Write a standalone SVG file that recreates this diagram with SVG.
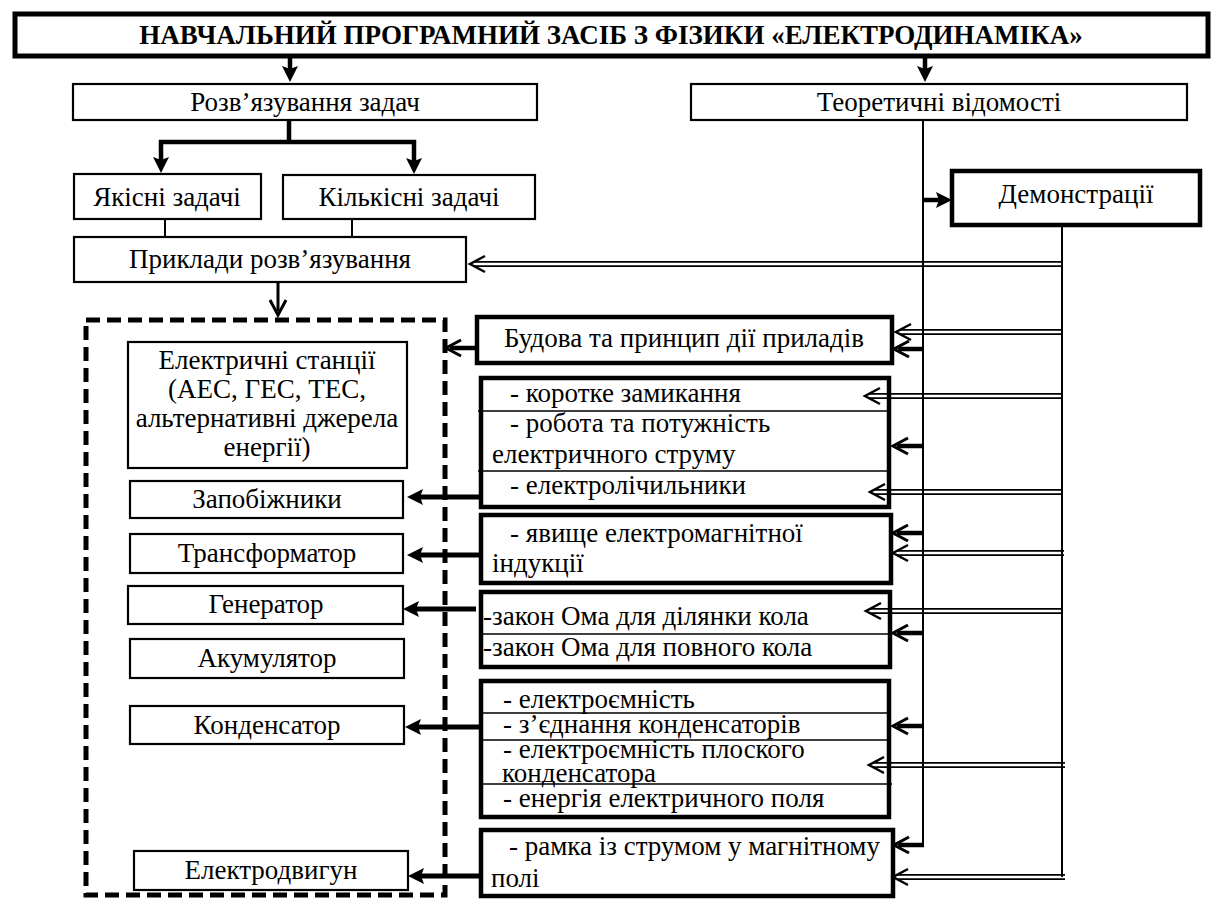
<svg xmlns="http://www.w3.org/2000/svg" width="1218" height="899" viewBox="0 0 1218 899">
<style>
.t{font-family:'Liberation Serif','Times New Roman',serif;font-size:27px;fill:#000}
.c{text-anchor:middle}
.b{font-weight:bold}
.box{fill:#fff;stroke:#000;stroke-width:2.2}
.bx{fill:#fff;stroke:#000;stroke-width:4.5}
.tb{fill:#fff;stroke:#000;stroke-width:5}
.dash{fill:none;stroke:#000;stroke-width:5;stroke-dasharray:14 7}
.div{stroke:#000;stroke-width:1.6;fill:none}
.thin{stroke:#000;stroke-width:2;fill:none}
.thk{stroke:#000;stroke-width:4.5;fill:none}
.thk5{stroke:#000;stroke-width:5;fill:none}
.med{stroke:#000;stroke-width:3;fill:none}
.dbl{stroke:#000;stroke-width:1.8;fill:none}
.dc{stroke:none;fill:none}
</style>
<defs>
<marker id="tri" markerUnits="userSpaceOnUse" orient="auto" overflow="visible" markerWidth="1" markerHeight="1" refX="0" refY="0"><path d="M-8,-8 L8,0 L-8,8 L-5,0 Z" fill="#000"/></marker>
<marker id="vee" markerUnits="userSpaceOnUse" orient="auto" overflow="visible" markerWidth="1" markerHeight="1" refX="0" refY="0"><path d="M-11,-8 L4,0 L-11,8" fill="none" stroke="#000" stroke-width="3"/></marker>
<marker id="dv" markerUnits="userSpaceOnUse" orient="auto" overflow="visible" markerWidth="1" markerHeight="1" refX="0" refY="0"><path d="M-15,-8 L0,0 L-15,8" fill="none" stroke="#000" stroke-width="2.5"/></marker>
</defs>

<g id="title">
<rect class="tb" x="15" y="14" width="1193" height="42"/>
<text class="t c b" x="611" y="44">НАВЧАЛЬНИЙ ПРОГРАМНИЙ ЗАСІБ З ФІЗИКИ «ЕЛЕКТРОДИНАМІКА»</text>
</g>
<g id="n-solve">
<rect class="box" x="73" y="84" width="464" height="36"/>
<text class="t c" x="305" y="111">Розв’язування задач</text>
</g>
<g id="n-theory">
<rect class="box" x="691" y="84" width="496" height="36"/>
<text class="t c" x="939" y="111">Теоретичні відомості</text>
</g>
<g id="n-qual">
<rect class="box" x="74" y="174" width="187" height="45"/>
<text class="t c" x="167" y="206">Якісні задачі</text>
</g>
<g id="n-quant">
<rect class="box" x="283" y="175" width="252" height="44"/>
<text class="t c" x="409" y="206">Кількісні задачі</text>
</g>
<g id="n-examples">
<rect class="box" x="74" y="237" width="392" height="45"/>
<text class="t c" x="270" y="268">Приклади розв’язування</text>
</g>
<g id="n-demo">
<rect class="bx" x="952" y="171" width="248" height="54"/>
<text class="t c" x="1076" y="203">Демонстрації</text>
</g>

<g id="n-group">
<rect class="dash" x="86" y="320" width="359" height="575"/>
</g>
<g id="n-stations">
<rect class="box" x="128" y="342" width="279" height="126"/>
<text class="t c" x="267" y="369">Електричні станції</text>
<text class="t c" x="267" y="398">(АЕС, ГЕС, ТЕС,</text>
<text class="t c" x="267" y="427">альтернативні джерела</text>
<text class="t c" x="267" y="456">енергії)</text>
</g>
<g id="n-fuses">
<rect class="box" x="130" y="481" width="273" height="37"/>
<text class="t c" x="267" y="508">Запобіжники</text>
</g>
<g id="n-transformer">
<rect class="box" x="130" y="534" width="273" height="39"/>
<text class="t c" x="267" y="562">Трансформатор</text>
</g>
<g id="n-generator">
<rect class="box" x="128" y="586" width="275" height="38"/>
<text class="t c" x="266" y="613">Генератор</text>
</g>
<g id="n-accumulator">
<rect class="box" x="130" y="639" width="274" height="39"/>
<text class="t c" x="267" y="667">Акумулятор</text>
</g>
<g id="n-capacitor">
<rect class="box" x="130" y="706" width="274" height="38"/>
<text class="t c" x="267" y="734">Конденсатор</text>
</g>
<g id="n-motor">
<rect class="box" x="134" y="851" width="274" height="39"/>
<text class="t c" x="271" y="879">Електродвигун</text>
</g>

<g id="n-devices">
<rect class="bx" x="477" y="317" width="415" height="46"/>
<text class="t c" x="684" y="347">Будова та принцип дії приладів</text>
</g>
<g id="n-g2">
<rect class="bx" x="481" y="378" width="408" height="129"/>
<path class="div" d="M478,411 H889 M478,471 H889"/>
<text class="t" x="510" y="402">- коротке замикання</text>
<text class="t" x="510" y="432">- робота та потужність</text>
<text class="t" x="492" y="463">електричного струму</text>
<text class="t" x="510" y="494">- електролічильники</text>
</g>
<g id="n-g3">
<rect class="bx" x="481" y="515" width="410" height="68"/>
<text class="t" x="510" y="542">- явище електромагнітної</text>
<text class="t" x="492" y="572">індукції</text>
</g>
<g id="n-g4">
<rect class="bx" x="481" y="592" width="409" height="75"/>
<path class="div" d="M481,634 H890"/>
<text class="t" x="483" y="625">-закон Ома для ділянки кола</text>
<text class="t" x="483" y="656">-закон Ома для повного кола</text>
</g>
<g id="n-g5">
<rect class="bx" x="481" y="681" width="408" height="136"/>
<path class="div" d="M481,713 H889 M481,740 H889 M481,784 H892"/>
<text class="t" x="503" y="708">- електроємність</text>
<text class="t" x="503" y="733">- з’єднання конденсаторів</text>
<text class="t" x="503" y="758">- електроємність плоского</text>
<text class="t" x="502" y="782">конденсатора</text>
<text class="t" x="503" y="807">- енергія електричного поля</text>
</g>
<g id="n-g6">
<rect class="bx" x="481" y="830" width="412" height="66"/>
<text class="t" x="509" y="855">- рамка із струмом у магнітному</text>
<text class="t" x="491" y="887">полі</text>
</g>

<g id="connectors">
<path class="thk" d="M290,56 V74" marker-end="url(#tri)"/>
<path class="thk" d="M925,56 V74" marker-end="url(#tri)"/>
<path class="thk" d="M289,120 V142 M159,142 H416"/>
<path class="thk" d="M161,140 V165" marker-end="url(#tri)"/>
<path class="thk" d="M414,140 V166" marker-end="url(#tri)"/>
<path class="thin" d="M165,219 V237 M352,219 V237"/>
<path class="med" d="M278,282 V311" marker-end="url(#vee)"/>

<path class="thin" d="M923,120 V845"/>
<path class="thk" d="M923,200 H944" marker-end="url(#tri)"/>
<path class="thin" d="M1062,225 V877"/>

<path class="thk" d="M923,349 H898" marker-end="url(#vee)"/>
<path class="thk" d="M923,446 H897" marker-end="url(#vee)"/>
<path class="thk" d="M923,533 H897" marker-end="url(#vee)"/>
<path class="thk" d="M923,633 H897" marker-end="url(#vee)"/>
<path class="thk" d="M923,726 H897" marker-end="url(#vee)"/>
<path class="thk" d="M924,845 H898" marker-end="url(#vee)"/>

<path class="dbl" d="M1062,261.8 H474 M1062,266.2 H474"/>
<path class="dc" d="M1062,264 H470" marker-end="url(#dv)"/>
<path class="dbl" d="M1062,329.8 H900 M1062,334.2 H900"/>
<path class="dc" d="M1062,332 H896" marker-end="url(#dv)"/>
<path class="dbl" d="M1062,393.8 H869 M1062,398.2 H869"/>
<path class="dc" d="M1062,396 H865" marker-end="url(#dv)"/>
<path class="dbl" d="M1062,489.8 H874 M1062,494.2 H874"/>
<path class="dc" d="M1062,492 H870" marker-end="url(#dv)"/>
<path class="dbl" d="M1064,550.8 H897 M1064,555.2 H897"/>
<path class="dc" d="M1064,553 H893" marker-end="url(#dv)"/>
<path class="dbl" d="M1062,608.8 H870 M1062,613.2 H870"/>
<path class="dc" d="M1062,611 H866" marker-end="url(#dv)"/>
<path class="dbl" d="M1065,762.8 H873 M1065,767.2 H873"/>
<path class="dc" d="M1065,765 H869" marker-end="url(#dv)"/>
<path class="dbl" d="M1065,874.8 H897 M1065,879.2 H897"/>
<path class="dc" d="M1065,877 H893" marker-end="url(#dv)"/>

<path class="thk" d="M477,348 H450" marker-end="url(#vee)"/>
<path class="thk5" d="M481,497 H415" marker-end="url(#tri)"/>
<path class="thk5" d="M481,555 H415" marker-end="url(#tri)"/>
<path class="thk5" d="M476,609 H411" marker-end="url(#tri)"/>
<path class="thk5" d="M481,727 H413" marker-end="url(#tri)"/>
<path class="thk5" d="M481,876 H416" marker-end="url(#tri)"/>
</g>
</svg>
